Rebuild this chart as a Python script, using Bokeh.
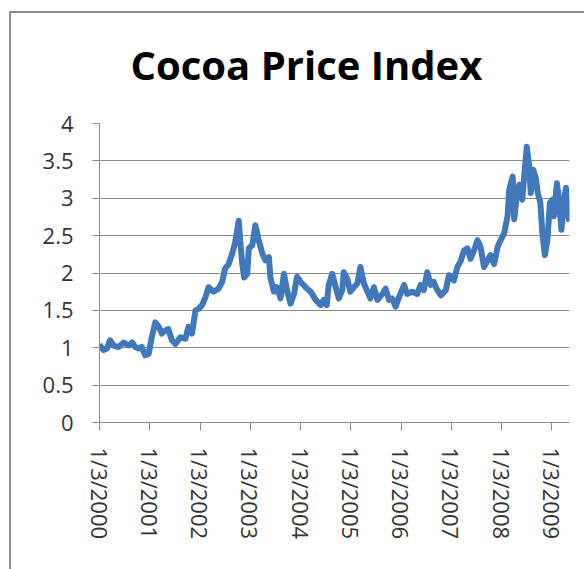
from bokeh.plotting import figure
from bokeh.models import FixedTicker, Range1d, ColumnDataSource, InlineStyleSheet
from bokeh.embed import file_html
from bokeh.resources import INLINE

# Position along the axis in years elapsed since 1/3/2000 (one unit per year)
year_pos = [
    0.00, 0.01, 0.08, 0.15, 0.21, 0.28, 0.38, 0.48, 0.58, 0.65, 0.71, 0.78, 0.84,
    0.91, 0.98, 1.04, 1.11, 1.18, 1.24, 1.31, 1.37, 1.44, 1.51, 1.61, 1.71, 1.77,
    1.84, 1.91, 1.97, 2.04, 2.11, 2.17, 2.27, 2.37, 2.44, 2.50, 2.57, 2.64, 2.70,
    2.77, 2.80, 2.84, 2.88, 2.94, 2.97, 3.04, 3.10, 3.17, 3.24, 3.30, 3.37, 3.40,
    3.47, 3.53, 3.60, 3.67, 3.73, 3.80, 3.87, 3.93, 4.00, 4.10, 4.20, 4.30, 4.40,
    4.46, 4.52, 4.56, 4.63, 4.70, 4.76, 4.83, 4.86, 4.93, 4.99, 5.06, 5.13, 5.19,
    5.26, 5.33, 5.39, 5.46, 5.53, 5.63, 5.69, 5.76, 5.82, 5.89, 5.96, 6.06, 6.12,
    6.22, 6.32, 6.39, 6.45, 6.52, 6.59, 6.65, 6.72, 6.79, 6.89, 6.95, 7.05, 7.12,
    7.19, 7.25, 7.32, 7.38, 7.45, 7.52, 7.58, 7.65, 7.72, 7.78, 7.85, 7.92, 7.98,
    8.05, 8.12, 8.15, 8.22, 8.25, 8.30, 8.35, 8.41, 8.46, 8.50, 8.55, 8.58, 8.63,
    8.68, 8.72, 8.77, 8.81, 8.86, 8.91, 8.96, 9.01, 9.04, 9.10, 9.14, 9.19, 9.24,
    9.28, 9.31, 9.35,
]

# Cocoa price index values
price_index = [
    1.05, 1.03, 0.97, 0.99, 1.10, 1.03, 1.01, 1.07, 1.03, 1.07, 1.01, 0.99, 1.01,
    0.90, 0.92, 1.14, 1.34, 1.28, 1.19, 1.23, 1.25, 1.10, 1.05, 1.14, 1.12, 1.28,
    1.19, 1.50, 1.52, 1.57, 1.68, 1.81, 1.75, 1.79, 1.88, 2.06, 2.12, 2.26, 2.41,
    2.70, 2.43, 2.12, 1.94, 1.99, 2.33, 2.37, 2.64, 2.43, 2.26, 2.17, 2.21, 1.94,
    1.75, 1.81, 1.66, 1.99, 1.77, 1.59, 1.72, 1.95, 1.88, 1.81, 1.75, 1.64, 1.57,
    1.64, 1.57, 1.84, 1.99, 1.81, 1.66, 1.77, 2.01, 1.92, 1.75, 1.81, 1.86, 2.08,
    1.86, 1.75, 1.66, 1.81, 1.64, 1.72, 1.79, 1.64, 1.66, 1.55, 1.68, 1.84, 1.72,
    1.75, 1.72, 1.84, 1.77, 2.01, 1.84, 1.88, 1.77, 1.70, 1.77, 1.97, 1.90, 2.08,
    2.17, 2.30, 2.33, 2.19, 2.30, 2.44, 2.35, 2.08, 2.17, 2.24, 2.12, 2.35, 2.44,
    2.53, 2.77, 3.11, 3.29, 2.72, 3.02, 3.18, 2.98, 3.38, 3.69, 3.42, 3.07, 3.38,
    3.27, 3.07, 2.94, 2.53, 2.24, 2.44, 2.94, 2.98, 2.76, 3.20, 2.98, 2.58, 2.98,
    3.14, 2.80, 2.69,
]

x_ticks = [0, 1, 2, 3, 4, 5, 6, 7, 8, 9]
x_tick_labels = [
    "1/3/2000", "1/3/2001", "1/3/2002", "1/3/2003", "1/3/2004",
    "1/3/2005", "1/3/2006", "1/3/2007", "1/3/2008", "1/3/2009",
]
y_ticks = [0, 0.5, 1, 1.5, 2, 2.5, 3, 3.5, 4]
y_tick_labels = ["0", "0.5", "1", "1.5", "2", "2.5", "3", "3.5", "4"]

GRID = "#8a8a8a"
LABEL_FONT = "Open Sans"

p = figure(
    frame_width=470,
    frame_height=299,
    min_border_left=99,
    min_border_right=15,
    min_border_top=123,
    min_border_bottom=147,
    x_range=Range1d(0, 9.35),
    y_range=Range1d(0, 4),
    output_backend="svg",
    toolbar_location=None,
    title="Cocoa Price Index",
    outline_line_color=None,
)

# Chart-area frame: grey rule along the left and top edges
p.stylesheets = [InlineStyleSheet(css="""
:host::after {
  content: "";
  position: absolute;
  left: 9px;
  top: 11px;
  right: 0;
  bottom: 0;
  border-left: 2px solid #8c8c8c;
  border-top: 2px solid #8c8c8c;
  pointer-events: none;
}
""")]

p.title.text_font = LABEL_FONT
p.title.text_font_size = "40px"
p.title.text_font_style = "bold"
p.title.text_color = "#000000"
p.title.align = "left"
p.title.offset = 31
p.title.standoff = 63

src = ColumnDataSource(data=dict(x=year_pos, y=price_index))
p.line("x", "y", source=src, line_color="#4177bb", line_width=6, line_join="round")

# y axis
p.yaxis.ticker = FixedTicker(ticks=y_ticks)
p.yaxis.major_label_overrides = {t: l for t, l in zip(y_ticks, y_tick_labels)}
p.yaxis.axis_line_color = GRID
p.yaxis.major_tick_line_color = GRID
p.yaxis.major_tick_out = 7
p.yaxis.major_tick_in = 0
p.yaxis.minor_tick_line_color = None
p.yaxis.major_label_standoff = 19
p.yaxis.major_label_text_font = LABEL_FONT
p.yaxis.major_label_text_font_size = "22px"
p.yaxis.major_label_text_color = "#333333"

# x axis
p.xaxis.ticker = FixedTicker(ticks=x_ticks)
p.xaxis.major_label_overrides = {t: l for t, l in zip(x_ticks, x_tick_labels)}
p.xaxis.major_label_orientation = "vertical"
p.xaxis.axis_line_color = GRID
p.xaxis.major_tick_line_color = GRID
p.xaxis.major_tick_out = 8
p.xaxis.major_tick_in = 0
p.xaxis.minor_tick_line_color = None
p.xaxis.major_label_standoff = 17
p.xaxis.major_label_text_font = LABEL_FONT
p.xaxis.major_label_text_font_size = "22px"
p.xaxis.major_label_text_color = "#333333"

p.xgrid.grid_line_color = None
p.ygrid.grid_line_color = GRID
p.ygrid.grid_line_width = 1

open("out.html", "w").write(file_html(p, INLINE))
